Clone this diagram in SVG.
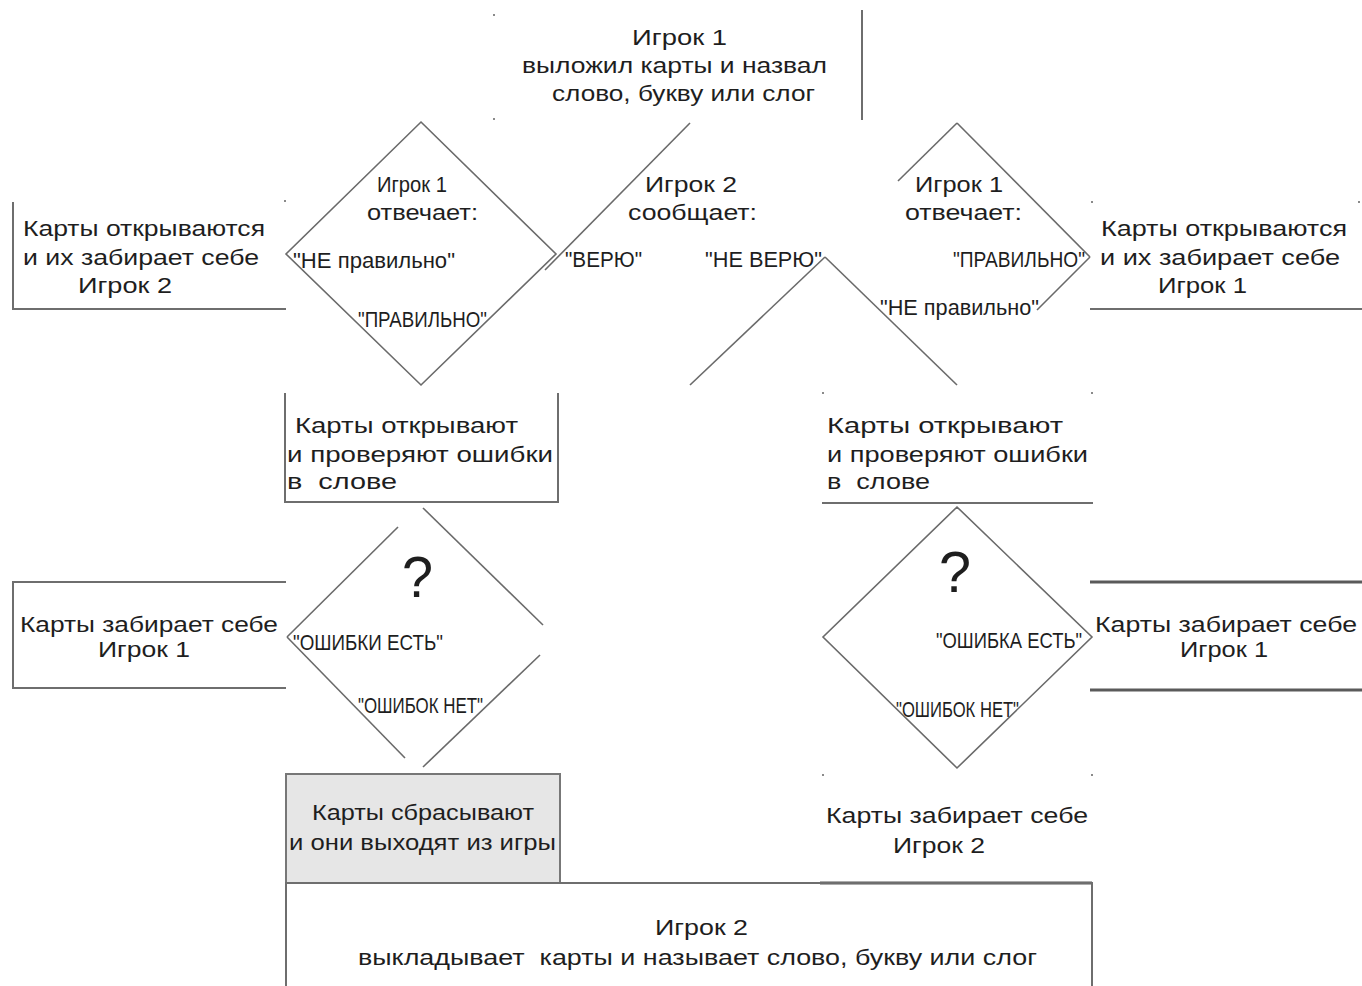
<svg xmlns="http://www.w3.org/2000/svg" width="1362" height="986" viewBox="0 0 1362 986">
<style>
.ln{stroke:#6a6a6a;stroke-width:1.6;fill:none}
.bx{stroke:#6e6e6e;stroke-width:2;fill:none}
.bxk{stroke:#5a5a5a;stroke-width:3;fill:none}
.t{font-family:"Liberation Sans",Arial,sans-serif;font-size:22px;fill:#1e1e1e}
.q{font-size:22px}
.qm{font-size:58px}
.dot{fill:#8a8a8a}
</style>
<rect width="1362" height="986" fill="#ffffff"/>
<g id="connectors"></g>

<g id="start">
<line class="bx" x1="862" y1="10" x2="862" y2="120"/>
<rect class="dot" x="493" y="14" width="2" height="2"/>
<rect class="dot" x="493" y="118" width="2" height="2"/>
<text class="t" x="632" y="45" textLength="95" lengthAdjust="spacingAndGlyphs">Игрок 1</text>
<text class="t" x="522" y="73" textLength="305" lengthAdjust="spacingAndGlyphs">выложил карты и назвал</text>
<text class="t" x="552" y="101" textLength="263" lengthAdjust="spacingAndGlyphs">слово, букву или слог</text>
</g>

<g id="decision1">
<polygon class="ln" points="421,122 556,254 421,385 286,254"/>
<text class="t" x="377" y="192" textLength="70" lengthAdjust="spacingAndGlyphs">Игрок 1</text>
<text class="t" x="367" y="220" textLength="111" lengthAdjust="spacingAndGlyphs">отвечает:</text>
<text class="t q" x="293" y="268" textLength="162" lengthAdjust="spacingAndGlyphs">"НЕ правильно"</text>
<text class="t q" x="358" y="327" textLength="129" lengthAdjust="spacingAndGlyphs">"ПРАВИЛЬНО"</text>
</g>

<g id="decision2">
<line class="ln" x1="690" y1="123" x2="545" y2="270"/>
<line class="ln" x1="825" y1="257" x2="690" y2="385"/>
<text class="t" x="645" y="192" textLength="92" lengthAdjust="spacingAndGlyphs">Игрок 2</text>
<text class="t" x="628" y="220" textLength="129" lengthAdjust="spacingAndGlyphs">сообщает:</text>
<text class="t q" x="565" y="267" textLength="77" lengthAdjust="spacingAndGlyphs">"ВЕРЮ"</text>
<text class="t q" x="705" y="267" textLength="117" lengthAdjust="spacingAndGlyphs">"НЕ ВЕРЮ"</text>
</g>

<g id="decision3">
<line class="ln" x1="957" y1="123" x2="898" y2="181"/>
<line class="ln" x1="957" y1="123" x2="1090" y2="257"/>
<line class="ln" x1="1090" y1="257" x2="1037" y2="310"/>
<line class="ln" x1="825" y1="257" x2="957" y2="385"/>
<text class="t" x="915" y="192" textLength="88" lengthAdjust="spacingAndGlyphs">Игрок 1</text>
<text class="t" x="905" y="220" textLength="117" lengthAdjust="spacingAndGlyphs">отвечает:</text>
<text class="t q" x="953" y="267" textLength="132" lengthAdjust="spacingAndGlyphs">"ПРАВИЛЬНО"</text>
<text class="t q" x="880" y="315" textLength="159" lengthAdjust="spacingAndGlyphs">"НЕ правильно"</text>
</g>

<g id="player2-takes-1">
<path class="bx" d="M13,202 V309 H286"/>
<rect class="dot" x="284" y="200" width="2" height="2"/>
<text class="t" x="23" y="236" textLength="242" lengthAdjust="spacingAndGlyphs">Карты открываются</text>
<text class="t" x="23" y="265" textLength="236" lengthAdjust="spacingAndGlyphs">и их забирает себе</text>
<text class="t" x="78" y="293" textLength="94" lengthAdjust="spacingAndGlyphs">Игрок 2</text>
</g>

<g id="player1-takes-1">
<line class="bx" x1="1090" y1="309" x2="1362" y2="309"/>
<rect class="dot" x="1091" y="201" width="2" height="2"/>
<rect class="dot" x="1358" y="201" width="2" height="2"/>
<text class="t" x="1101" y="236" textLength="246" lengthAdjust="spacingAndGlyphs">Карты открываются</text>
<text class="t" x="1100" y="265" textLength="240" lengthAdjust="spacingAndGlyphs">и их забирает себе</text>
<text class="t" x="1158" y="293" textLength="89" lengthAdjust="spacingAndGlyphs">Игрок 1</text>
</g>

<g id="check-left">
<path class="bx" d="M285,393 V502 H558 V393"/>
<text class="t" x="295" y="433" textLength="223" lengthAdjust="spacingAndGlyphs">Карты открывают</text>
<text class="t" x="287" y="462" textLength="266" lengthAdjust="spacingAndGlyphs">и проверяют ошибки</text>
<text class="t" x="287" y="489" textLength="110" lengthAdjust="spacingAndGlyphs" xml:space="preserve">в  слове</text>
</g>

<g id="check-right">
<line class="bx" x1="822" y1="503" x2="1093" y2="503"/>
<rect class="dot" x="822" y="392" width="2" height="2"/>
<rect class="dot" x="1091" y="392" width="2" height="2"/>
<text class="t" x="827" y="433" textLength="236" lengthAdjust="spacingAndGlyphs">Карты открывают</text>
<text class="t" x="827" y="462" textLength="261" lengthAdjust="spacingAndGlyphs">и проверяют ошибки</text>
<text class="t" x="827" y="489" textLength="103" lengthAdjust="spacingAndGlyphs" xml:space="preserve">в  слове</text>
</g>

<g id="decision4">
<line class="ln" x1="423" y1="508" x2="543" y2="625"/>
<line class="ln" x1="398" y1="527" x2="287" y2="637"/>
<line class="ln" x1="287" y1="637" x2="405" y2="758"/>
<line class="ln" x1="540" y1="655" x2="423" y2="767"/>
<text class="t qm" x="402" y="597" textLength="31" lengthAdjust="spacingAndGlyphs">?</text>
<text class="t q" x="293" y="650" textLength="150" lengthAdjust="spacingAndGlyphs">"ОШИБКИ ЕСТЬ"</text>
<text class="t q" x="358" y="713" textLength="125" lengthAdjust="spacingAndGlyphs">"ОШИБОК НЕТ"</text>
</g>

<g id="decision5">
<polygon class="ln" points="957,507 1092,637 957,768 823,637"/>
<text class="t qm" x="939" y="592" textLength="32" lengthAdjust="spacingAndGlyphs">?</text>
<text class="t q" x="936" y="648" textLength="146" lengthAdjust="spacingAndGlyphs">"ОШИБКА ЕСТЬ"</text>
<text class="t q" x="896" y="717" textLength="123" lengthAdjust="spacingAndGlyphs">"ОШИБОК НЕТ"</text>
</g>

<g id="player1-takes-2">
<path class="bx" d="M286,582 H13 V688 H286"/>
<text class="t" x="20" y="632" textLength="258" lengthAdjust="spacingAndGlyphs">Карты забирает себе</text>
<text class="t" x="98" y="657" textLength="92" lengthAdjust="spacingAndGlyphs">Игрок 1</text>
</g>

<g id="player1-takes-3">
<line class="bxk" x1="1090" y1="582" x2="1362" y2="582"/>
<line class="bxk" x1="1090" y1="690" x2="1362" y2="690"/>
<text class="t" x="1095" y="632" textLength="262" lengthAdjust="spacingAndGlyphs">Карты забирает себе</text>
<text class="t" x="1180" y="657" textLength="88" lengthAdjust="spacingAndGlyphs">Игрок 1</text>
</g>

<g id="discard">
<rect x="286" y="774" width="274" height="109" fill="#e6e6e6" stroke="#777777" stroke-width="2"/>
<text class="t" x="312" y="820" textLength="222" lengthAdjust="spacingAndGlyphs">Карты сбрасывают</text>
<text class="t" x="289" y="850" textLength="267" lengthAdjust="spacingAndGlyphs">и они выходят из игры</text>
</g>

<g id="player2-takes-2">
<rect class="dot" x="822" y="774" width="2" height="2"/>
<rect class="dot" x="1091" y="774" width="2" height="2"/>
<line class="bxk" x1="820" y1="883" x2="1092" y2="883"/>
<text class="t" x="826" y="823" textLength="262" lengthAdjust="spacingAndGlyphs">Карты забирает себе</text>
<text class="t" x="893" y="853" textLength="92" lengthAdjust="spacingAndGlyphs">Игрок 2</text>
</g>

<g id="next-turn">
<path class="bx" d="M286,986 V883 H1092 V986"/>
<text class="t" x="655" y="935" textLength="93" lengthAdjust="spacingAndGlyphs">Игрок 2</text>
<text class="t" x="358" y="965" textLength="679" lengthAdjust="spacingAndGlyphs" xml:space="preserve">выкладывает  карты и называет слово, букву или слог</text>
</g>
</svg>
